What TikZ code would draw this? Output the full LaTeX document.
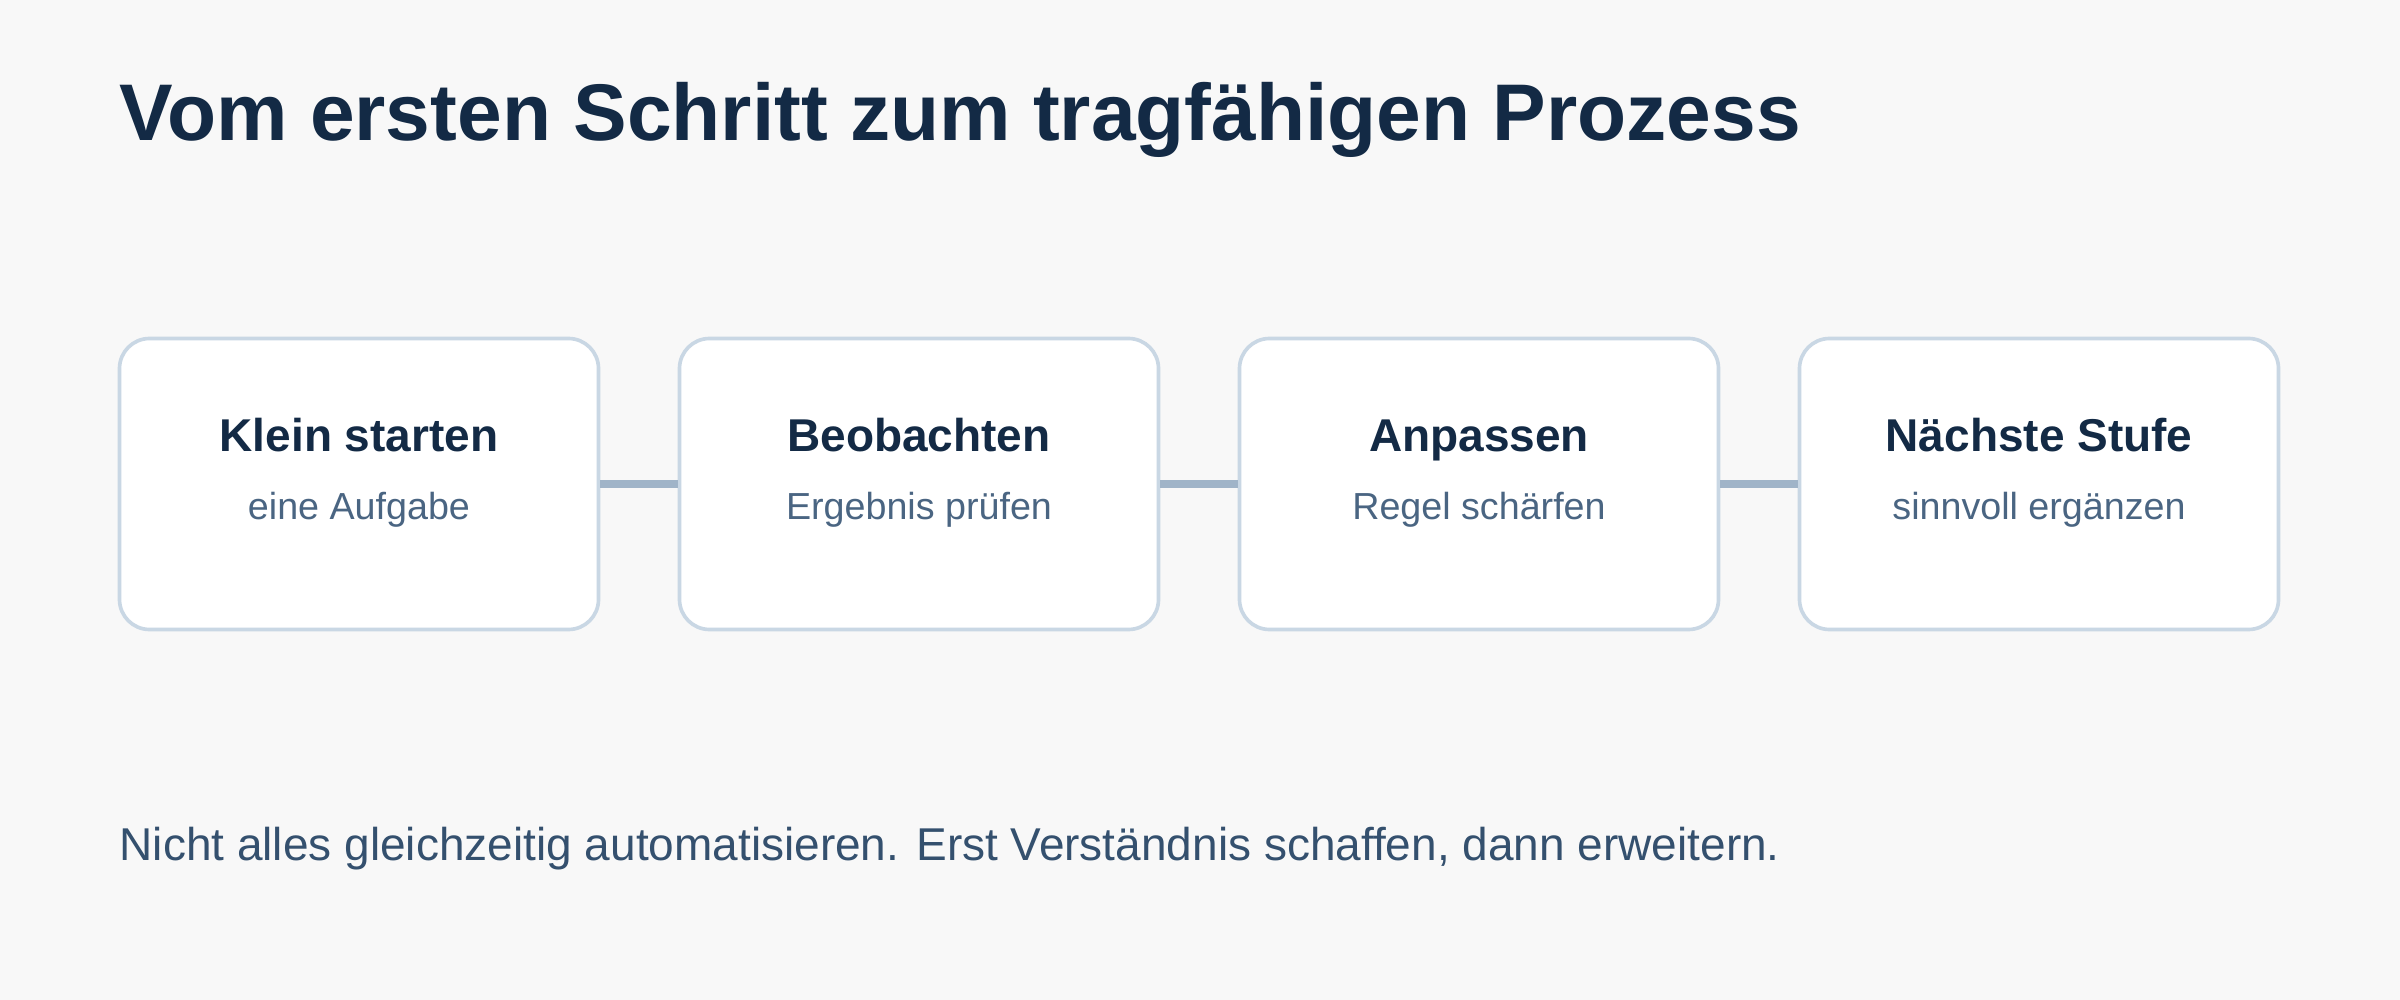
\documentclass[tikz,border=0pt]{standalone}
\usepackage{fontspec}
\setmainfont{Liberation Sans}
\definecolor{bg}{HTML}{F8F8F8}
\definecolor{navy}{HTML}{132A45}
\definecolor{slate}{HTML}{4A6582}
\definecolor{foot}{HTML}{34506E}
\definecolor{boxline}{HTML}{C9D7E4}
\definecolor{conn}{HTML}{A0B4C8}
\begin{document}
\begin{tikzpicture}[x=0.3pt,y=-0.3pt,
  stepbox/.style={draw=boxline,line width=1.1pt,fill=white,rounded corners=9pt,
    minimum width=143.7pt,minimum height=87.3pt,inner sep=0pt},
  steptitle/.style={font=\fontsize{13.8}{16}\selectfont\bfseries,text=navy,anchor=base},
  stepsub/.style={font=\fontsize{11.3}{13}\selectfont,text=slate,anchor=base},
  link/.style={draw=conn,line width=2.4pt}]
\path[fill=bg] (0,0) rectangle (2400,1000);
\useasboundingbox (0,0) rectangle (2400,1000);
\node[anchor=base west,font=\fontsize{24.1}{29}\selectfont\bfseries,text=navy,inner sep=0pt] (title) at (119,141) {Vom ersten Schritt zum tragfähigen Prozess};
\foreach \i/\x/\t/\s in {1/359/Klein starten/eine Aufgabe,2/919/Beobachten/Ergebnis prüfen,3/1479/Anpassen/Regel schärfen,4/2039/Nächste Stufe/sinnvoll ergänzen}{
  \node[stepbox] (b\i) at (\x,484) {};
  \node[steptitle] (t\i) at (\x,452) {\t};
  \node[stepsub] (s\i) at (\x,520) {\s};
}
\draw[link] (b1.east) -- (b2.west);
\draw[link] (b2.east) -- (b3.west);
\draw[link] (b3.east) -- (b4.west);
\node[anchor=base west,font=\fontsize{13.8}{16}\selectfont,text=foot,inner sep=0pt] (foot) at (119,860) {Nicht alles gleichzeitig automatisieren. Erst Verständnis schaffen, dann erweitern.};
\end{tikzpicture}
\end{document}
